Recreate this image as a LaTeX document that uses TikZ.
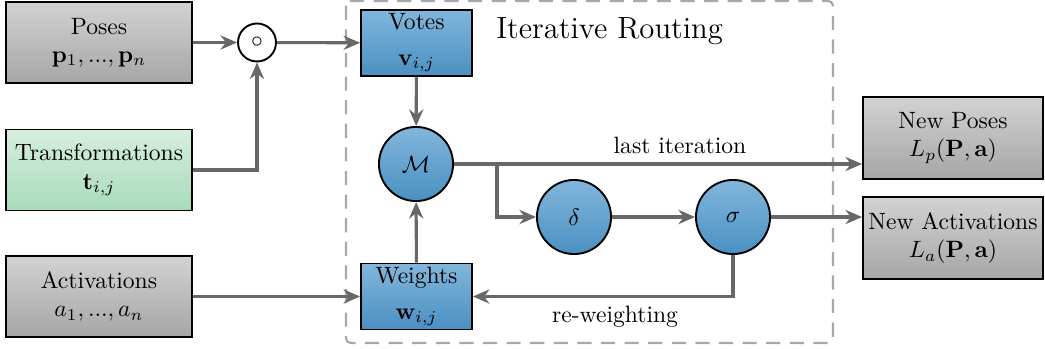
\documentclass[tikz,border=0pt]{standalone}
\usepackage{amsmath}
\usetikzlibrary{arrows.meta,positioning,calc}

\definecolor{grayTop}{HTML}{D2D2D2}
\definecolor{grayBot}{HTML}{A6A6A6}
\definecolor{greenTop}{HTML}{D6EEDE}
\definecolor{greenBot}{HTML}{A8DBBA}
\definecolor{blueTop}{HTML}{82B6DB}
\definecolor{blueBot}{HTML}{4A90C2}
\definecolor{wire}{HTML}{686868}
\definecolor{frame}{HTML}{A8A8A8}

\tikzset{
  box/.style={draw=black, line width=0.8pt, align=center, inner sep=1pt},
  graybox/.style={box, top color=grayTop, bottom color=grayBot,
    minimum width=78.8pt, minimum height=34.3pt},
  greenbox/.style={box, top color=greenTop, bottom color=greenBot,
    minimum width=78.8pt, minimum height=34.3pt},
  outbox/.style={box, top color=grayTop, bottom color=grayBot,
    minimum width=76.3pt, minimum height=34.7pt},
  bluebox/.style={box, top color=blueTop, bottom color=blueBot,
    minimum width=47pt, minimum height=28pt},
  bluecirc/.style={circle, draw=black, line width=0.8pt,
    top color=blueTop, bottom color=blueBot, minimum size=31.4pt, inner sep=0pt},
  opcirc/.style={circle, draw=black, line width=0.8pt, fill=white,
    minimum size=16.1pt, inner sep=0pt},
  wireline/.style={draw=wire, line width=1.3pt},
  flow/.style={wireline, -{Stealth[length=7pt,width=6pt]}},
}

\begin{document}
\begin{tikzpicture}[x=0.4237pt, y=-0.4237pt]
\useasboundingbox (0,0) rectangle (1045,349);

% routing frame
\draw[frame, dashed, line width=0.9pt, dash pattern=on 6pt off 4pt, rounded corners=2pt]
  (346,1) rectangle (833,343);
\node[anchor=west, font=\fontsize{13}{16}\selectfont] (title) at (488,31) {Iterative Routing};

% inputs
\node[graybox] (poses) at (99,42.5) {Poses\\$\mathbf{p}_1, ..., \mathbf{p}_n$};
\node[greenbox] (trans) at (99,170) {Transformations\\$\mathbf{t}_{i,j}$};
\node[graybox] (act) at (99,296.5) {Activations\\$a_1, ..., a_n$};

% composition operator
\node[opcirc] (op) at (257,42.5) {$\circ$};

% routing internals
\node[bluebox] (votes) at (416.5,43) {Votes\\[3pt]$\mathbf{v}_{i,j}$};
\node[bluebox] (weights) at (416.5,296.5) {Weights\\[3pt]$\mathbf{w}_{i,j}$};
\node[bluecirc] (M) at (416,164) {$\mathcal{M}$};
\node[bluecirc] (delta) at (574,217) {$\delta$};
\node[bluecirc] (sigma) at (733,217) {$\sigma$};

% outputs
\node[outbox] (newp) at (953,138) {New Poses\\$L_p(\mathbf{P}, \mathbf{a})$};
\node[outbox] (newa) at (953,238) {New Activations\\$L_a(\mathbf{P}, \mathbf{a})$};

% connectors
\draw[flow] (poses) -- (op);
\draw[flow] (op) -- (votes);
\draw[flow] (trans.east) -| (op.south);
\draw[flow] (act) -- (weights);
\draw[flow] (votes) -- (M);
\draw[flow] (weights) -- (M);
\draw[flow] (M) -- (M -| newp.west);
\coordinate (split) at (497,164);
\draw[flow] (split) |- (delta.west);
\draw[flow] (delta) -- (sigma);
\draw[flow] (sigma) -- (sigma -| newa.west);
\draw[flow] (sigma.south) |- (weights.east);

% edge labels
\node (lastlbl) at (680,145) {last iteration};
\node (rwlbl) at (615,317) {re-weighting};
\end{tikzpicture}
\end{document}
